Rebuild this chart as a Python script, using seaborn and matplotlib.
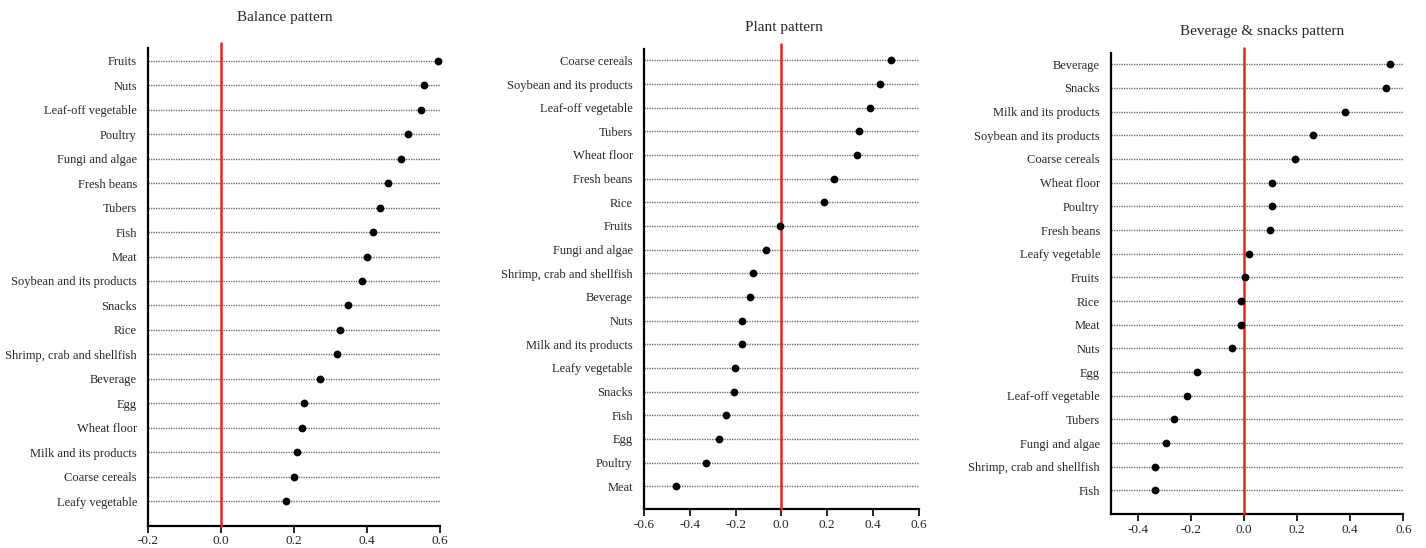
import matplotlib
matplotlib.use("Agg")
import matplotlib.pyplot as plt
import seaborn as sns
import pandas as pd

# ---------------- data ----------------
balance_foods = ["Fruits", "Nuts", "Leaf-off vegetable", "Poultry", "Fungi and algae",
                 "Fresh beans", "Tubers", "Fish", "Meat", "Soybean and its products",
                 "Snacks", "Rice", "Shrimp, crab and shellfish", "Beverage", "Egg",
                 "Wheat floor", "Milk and its products", "Coarse cereals", "Leafy vegetable"]
balance_values = [0.595, 0.557, 0.548, 0.513, 0.494, 0.458, 0.436, 0.416, 0.401, 0.386,
                  0.347, 0.326, 0.318, 0.272, 0.227, 0.222, 0.209, 0.201, 0.179]

plant_foods = ["Coarse cereals", "Soybean and its products", "Leaf-off vegetable", "Tubers",
               "Wheat floor", "Fresh beans", "Rice", "Fruits", "Fungi and algae",
               "Shrimp, crab and shellfish", "Beverage", "Nuts", "Milk and its products",
               "Leafy vegetable", "Snacks", "Fish", "Egg", "Poultry", "Meat"]
plant_values = [0.480, 0.431, 0.386, 0.338, 0.332, 0.231, 0.188, -0.007, -0.069,
                -0.124, -0.138, -0.173, -0.173, -0.204, -0.205, -0.240, -0.274, -0.328, -0.459]

bev_foods = ["Beverage", "Snacks", "Milk and its products", "Soybean and its products",
             "Coarse cereals", "Wheat floor", "Poultry", "Fresh beans", "Leafy vegetable",
             "Fruits", "Rice", "Meat", "Nuts", "Egg", "Leaf-off vegetable", "Tubers",
             "Fungi and algae", "Shrimp, crab and shellfish", "Fish"]
bev_values = [0.548, 0.533, 0.382, 0.261, 0.194, 0.104, 0.104, 0.097, 0.019,
              0.006, -0.009, -0.010, -0.044, -0.177, -0.215, -0.262, -0.294, -0.333, -0.335]

titles = ["Balance pattern", "Plant pattern", "Beverage & snacks pattern"]
x_ticks = [[-0.2, 0.0, 0.2, 0.4, 0.6],
           [-0.6, -0.4, -0.2, 0.0, 0.2, 0.4, 0.6],
           [-0.4, -0.2, 0.0, 0.2, 0.4, 0.6]]
x_limits = [(-0.2, 0.6), (-0.6, 0.6), (-0.5, 0.6)]

# ---------------- style ----------------
sns.set_style("white")
plt.rcParams["font.family"] = ["Liberation Serif", "DejaVu Serif"]

fig = plt.figure(figsize=(14.26, 5.48), dpi=100)

# axes rectangles [left, bottom, width, height] in figure fractions
rects = [[0.1038, 0.0407, 0.2048, 0.8717],
         [0.4516, 0.0712, 0.1926, 0.8394],
         [0.7791, 0.0615, 0.2050, 0.8423]]
pads = [(0.53, 1.01), (0.48, 0.96), (0.49, 1.01)]
title_y = [18, 27, 32]
title_x = [285, 784, 1262]

datasets = [(balance_foods, balance_values),
            (plant_foods, plant_values),
            (bev_foods, bev_values)]

for i, (foods, vals) in enumerate(datasets):
    ax = fig.add_axes(rects[i])
    df = pd.DataFrame({"food": foods, "value": vals})
    sns.stripplot(data=df, x="value", y="food", order=foods, jitter=False,
                  color="black", size=5.6, linewidth=0, ax=ax, zorder=4)
    for coll in ax.collections:
        coll.set_clip_on(False)
    n = len(foods)
    top_pad, bot_pad = pads[i]
    ax.set_ylim(n - 1 + bot_pad, -top_pad)
    ax.set_xlim(*x_limits[i])
    ax.set_xticks(x_ticks[i])
    ax.set_xticklabels([f"{t:.1f}" for t in x_ticks[i]], fontsize=9.5)
    ax.set_xlabel("")
    ax.set_ylabel("")
    ax.tick_params(axis="y", length=0, pad=8, labelsize=9)
    ax.tick_params(axis="x", length=5, width=1.2, direction="out", pad=2,
                   bottom=True, color="black")
    # dotted horizontal guide lines
    ax.grid(axis="y", linestyle=(0, (1, 0.8)), color="#707070", linewidth=1.0, zorder=1)
    ax.grid(axis="x", visible=False)
    ax.set_axisbelow(True)
    for s in ["top", "right"]:
        ax.spines[s].set_visible(False)
    for s in ["left", "bottom"]:
        ax.spines[s].set_color("black")
        ax.spines[s].set_linewidth(1.6)
    ax.axvline(0.0, ymin=0, ymax=1.01, color="#f02020", linewidth=1.8,
               zorder=3, clip_on=False)
    fig.text(title_x[i] / 1426, 1 - title_y[i] / 548, titles[i],
             ha="center", va="center", fontsize=11)

fig.savefig("out.png", dpi=100)
